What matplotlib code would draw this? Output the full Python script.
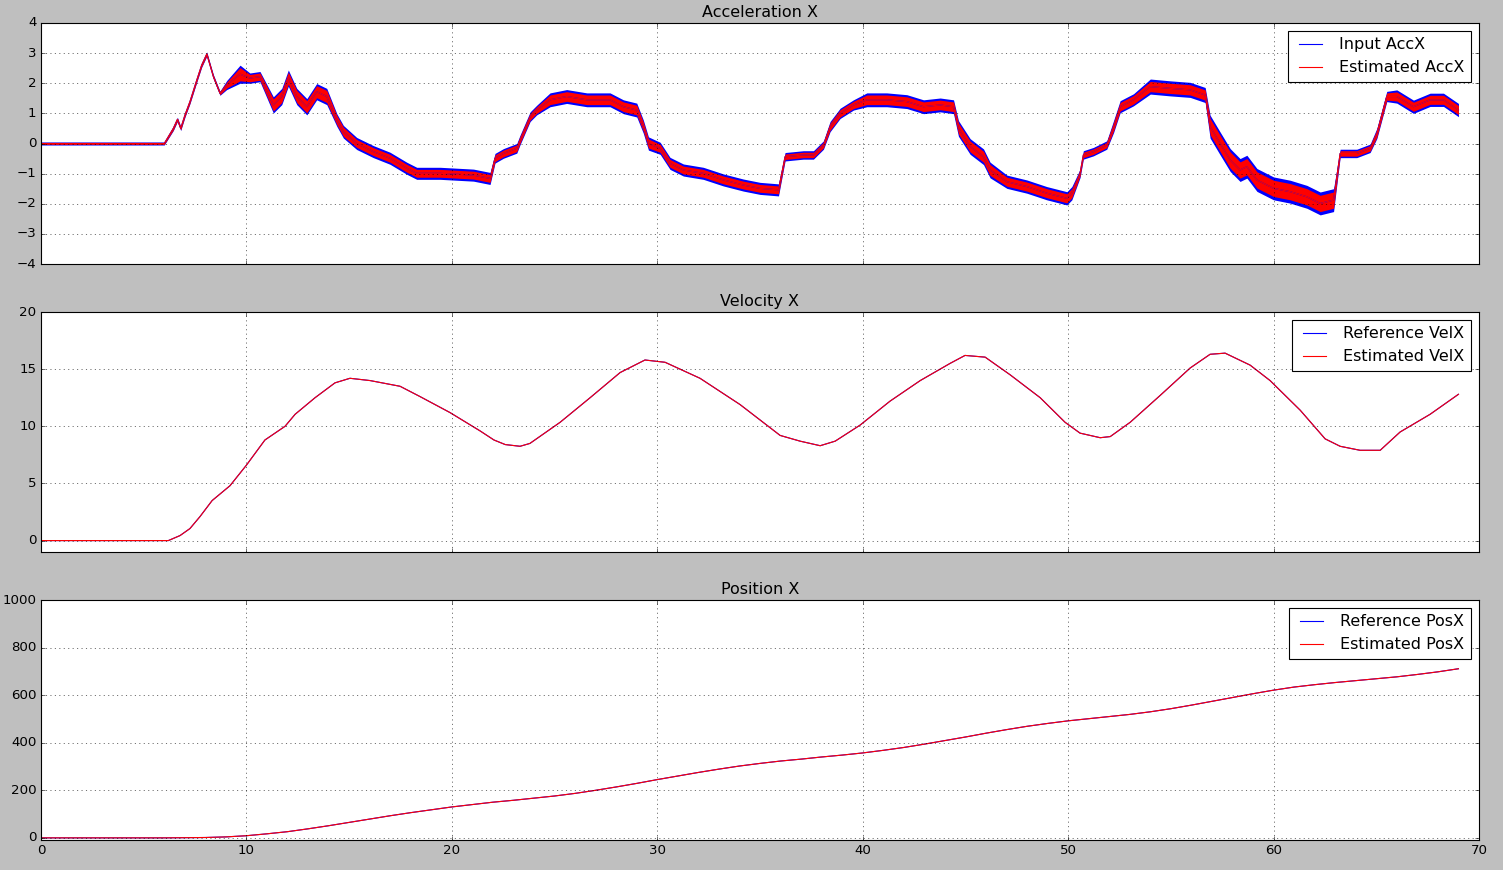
import numpy as np
import matplotlib
matplotlib.use("Agg")
import matplotlib.pyplot as plt

plt.style.use("classic")

# ---------------- Acceleration X (center + noise band half-widths)
acc_t = [0, 6.0, 6.44, 6.64, 6.8, 7.01, 7.25, 7.58, 7.82, 8.07, 8.39, 8.71, 9.04, 9.69,
         10.17, 10.66, 11.31, 11.72, 12.04, 12.45, 12.94, 13.42, 13.91, 14.4, 14.72, 15.37,
         16.18, 16.99, 17.8, 18.29, 19.43, 21.05, 21.86, 22.1, 22.51, 23.16, 23.32, 23.81,
         24.13, 24.78, 25.59, 26.57, 27.7, 28.35, 29.0, 29.32, 29.57, 30.14, 30.62, 31.27,
         32.24, 33.22, 34.19, 35.0, 35.9, 36.22, 37.11, 37.6, 38.09, 38.41, 38.9, 39.55,
         40.2, 41.17, 42.15, 42.96, 43.77, 44.42, 44.66, 45.23, 45.88, 46.2, 47.02, 47.99,
         48.96, 49.94, 50.18, 50.58, 50.74, 51.23, 51.88, 52.21, 52.53, 53.18, 54.0, 54.97,
         55.94, 56.67, 56.91, 57.4, 57.89, 58.37, 58.7, 59.19, 60.0, 60.81, 61.62, 62.27,
         62.92, 63.24, 64.05, 64.7, 65.03, 65.51, 66.0, 66.81, 67.62, 68.27, 69.0]
acc_est = [0, 0, 0.5, 0.8, 0.5, 0.95, 1.39, 2.1, 2.6, 2.97, 2.22, 1.67, 1.94, 2.3,
           2.17, 2.22, 1.28, 1.56, 2.17, 1.56, 1.22, 1.72, 1.56, 0.78, 0.39, 0.0,
           -0.27, -0.49, -0.82, -0.99, -0.99, -1.05, -1.16, -0.49, -0.33, -0.16, 0.12, 0.89,
           1.11, 1.45, 1.56, 1.45, 1.45, 1.22, 1.11, 0.56, 0.0, -0.16, -0.66, -0.88,
           -0.99, -1.21, -1.38, -1.49, -1.54, -0.44, -0.38, -0.38, -0.05, 0.56, 1.0, 1.28,
           1.45, 1.45, 1.39, 1.22, 1.28, 1.22, 0.5, -0.1, -0.44, -0.88, -1.27, -1.43,
           -1.65, -1.82, -1.65, -0.99, -0.38, -0.27, -0.05, 0.56, 1.22, 1.45, 1.89, 1.83,
           1.78, 1.61, 0.56, 0.0, -0.55, -0.88, -0.77, -1.21, -1.49, -1.6, -1.77, -1.99,
           -1.88, -0.33, -0.33, -0.16, 0.34, 1.56, 1.56, 1.22, 1.45, 1.45, 1.11]
acc_est_hw = ([0.03] * 2 + [0.05] * 7 + [0.05] * 3 + [0.1] + [0.22] + [0.12] * 2 +
              [0.2] * 7 + [0.15] * 2 + [0.13] * 8 + [0.11] * 6 + [0.16] * 6 + [0.15] * 2 +
              [0.13] * 8 + [0.09] * 4 + [0.12] * 3 + [0.16] * 6 + [0.18] * 4 + [0.15] * 5 +
              [0.09] * 4 + [0.14] * 3 + [0.17] * 4 + [0.27] * 11 + [0.09] * 3 +
              [0.12] * 2 + [0.15] * 5)
acc_in_hw = ([0.05] * 2 + [0.07] * 7 + [0.07] * 3 + [0.15] + [0.3] + [0.17] * 2 +
             [0.27] * 7 + [0.21] * 2 + [0.2] * 8 + [0.16] * 6 + [0.23] * 6 + [0.22] * 2 +
             [0.2] * 8 + [0.14] * 4 + [0.17] * 3 + [0.23] * 6 + [0.26] * 4 + [0.22] * 5 +
             [0.14] * 4 + [0.2] * 3 + [0.25] * 4 + [0.38] * 11 + [0.14] * 3 +
             [0.17] * 2 + [0.22] * 5)

# ---------------- Velocity X
vel_t = [0, 6.2, 6.77, 7.25, 7.74, 8.33, 9.2, 10.0, 10.9, 11.88, 12.37, 13.34, 14.31,
         15.04, 16.02, 17.48, 18.45, 19.91, 21.37, 22.05, 22.6, 23.32, 23.8, 25.27, 26.73,
         28.19, 29.4, 30.38, 32.08, 34.03, 35.98, 36.95, 37.93, 38.66, 39.87, 41.33, 42.8,
         44.25, 44.98, 45.96, 47.18, 48.64, 49.85, 50.58, 51.56, 52.05, 53.02, 54.48,
         55.94, 56.91, 57.64, 58.86, 59.83, 61.3, 62.51, 63.24, 64.21, 65.19, 66.16,
         67.62, 69.0]
vel_ref = [0, 0, 0.44, 1.05, 2.1, 3.5, 4.8, 6.6, 8.8, 10.0, 11.05, 12.5, 13.8,
           14.2, 14.0, 13.5, 12.6, 11.2, 9.6, 8.8, 8.4, 8.25, 8.5, 10.35, 12.5,
           14.7, 15.8, 15.6, 14.2, 11.9, 9.2, 8.7, 8.3, 8.7, 10.1, 12.2, 14.0,
           15.5, 16.2, 16.05, 14.5, 12.5, 10.35, 9.4, 9.0, 9.1, 10.35, 12.7,
           15.1, 16.3, 16.4, 15.35, 14.0, 11.4, 8.9, 8.25, 7.9, 7.9, 9.5,
           11.05, 12.8]
vel_est = list(vel_ref)

# ---------------- Position X
pos_t = [0, 6, 8] + list(range(9, 70))
pos_ref = [0, 0, 1.5, 4, 9, 17, 26, 38, 51, 65, 79, 93, 106, 118, 130, 140, 150, 158,
           167, 176, 187, 200, 214, 229, 245, 260, 275, 289, 302, 313, 323, 331, 340,
           348, 357, 368, 380, 394, 409, 424, 440, 455, 469, 481, 492, 501, 510, 519,
           530, 543, 558, 574, 590, 606, 621, 634, 644, 653, 661, 669, 677, 687, 698, 711]
pos_est = list(pos_ref)

# ---------------- Figure
fig = plt.figure(figsize=(1503 / 80, 870 / 80), dpi=80)
fig.patch.set_facecolor("#bfbfbf")
left, right = 41 / 1503, 1479 / 1503
boxes = [(23, 264), (312, 552), (600, 840)]
axes = []
for i, (top, bot) in enumerate(boxes):
    ax = fig.add_axes([left, 1 - bot / 870, right - left, (bot - top) / 870],
                      sharex=axes[0] if axes else None)
    axes.append(ax)

ax1, ax2, ax3 = axes

a_t = np.array(acc_t)
a_e = np.array(acc_est)
a_ehw = np.array(acc_est_hw)
a_ihw = np.array(acc_in_hw)
ax1.fill_between(a_t, a_e - a_ihw, a_e + a_ihw, color="blue", linewidth=0)
ax1.plot(a_t, a_e, color="blue", label="Input AccX")
ax1.fill_between(a_t, a_e - a_ehw, a_e + a_ehw, color="red", linewidth=0)
ax1.plot(a_t, a_e, color="red", label="Estimated AccX")
ax1.set_ylim(-4, 4)
ax1.set_title("Acceleration X")

ax2.plot(vel_t, vel_ref, color="blue", label="Reference VelX")
ax2.plot(vel_t, vel_est, color="red", label="Estimated VelX")
ax2.set_ylim(-1, 20)
ax2.set_title("Velocity X")

ax3.plot(pos_t, pos_ref, color="blue", label="Reference PosX")
ax3.plot(pos_t, pos_est, color="red", label="Estimated PosX")
ax3.set_ylim(-9, 1000)
ax3.set_title("Position X")

for ax in axes:
    ax.set_xlim(0, 70)
    ax.grid(True)
    ax.legend(loc="upper right")
for ax in (ax1, ax2):
    plt.setp(ax.get_xticklabels(), visible=False)

fig.savefig("out.png", dpi=80, facecolor=fig.get_facecolor())
